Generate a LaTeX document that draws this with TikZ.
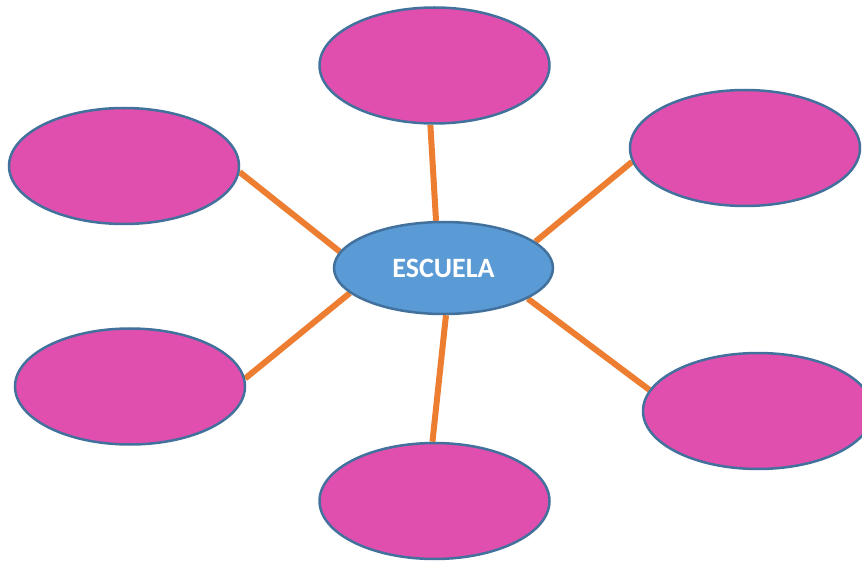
\documentclass[tikz,border=0pt]{standalone}
\usepackage{fontspec}
\newfontfamily\calfont{Carlito}
\usetikzlibrary{shapes.geometric,backgrounds}
\definecolor{leafpink}{HTML}{E04FAE}
\definecolor{hubblue}{HTML}{5B9BD5}
\definecolor{rimblue}{HTML}{41719C}
\definecolor{linkorange}{HTML}{ED7D31}
\tikzset{leaf/.style={ellipse, draw=rimblue, fill=leafpink, line width=2.5pt, inner sep=0pt, minimum width=230pt, minimum height=116pt},
         hub/.style={ellipse, draw=rimblue, fill=hubblue, line width=2.5pt, inner sep=0pt, minimum width=219pt, minimum height=92pt, text=white, font=\calfont\bfseries\fontsize{28}{30}\selectfont},
         link/.style={draw=linkorange, line width=6pt}}

\begin{document}
\begin{tikzpicture}[x=1pt,y=-1pt]
   \useasboundingbox (0,0) rectangle (862,561);
   \node[hub] (escuela) at (443.5,268) {ESCUELA};
   \node[leaf] (top)    at (434.5,65.5) {};
   \node[leaf] (topl)   at (124,166) {};
   \node[leaf] (topr)   at (745,148) {};
   \node[leaf] (botl)   at (130,386.5) {};
   \node[leaf] (bot)    at (434.5,501) {};
   \node[leaf] (botr)   at (758,411) {};
   \begin{scope}[on background layer]
    \draw[link] (escuela.99)    -- (top.-94);
    \draw[link] (escuela.171)   -- (topl.-3.6);
    \draw[link] (escuela.16.8)  -- (topr.-173);
    \draw[link] (escuela.195.6) -- (botl.4.2);
    \draw[link] (escuela.-87)   -- (bot.92.4);
    \draw[link] (escuela.-20.4) -- (botr.169);
   \end{scope}
\end{tikzpicture}
\end{document}
